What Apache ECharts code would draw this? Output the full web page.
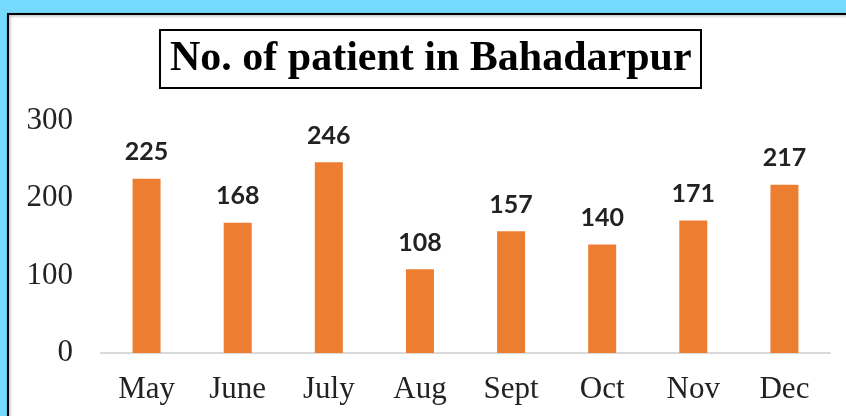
<!DOCTYPE html>
<html><head><meta charset="utf-8">
<script src="https://cdn.jsdelivr.net/npm/echarts@6/dist/echarts.min.js"></script>
<style>html,body{margin:0;padding:0;background:#76dafe;}#c{width:846px;height:416px;}</style>
</head><body><div id="c"></div>
<script>
const titleText = "No. of patient in Bahadarpur";
const months = ["May","June","July","Aug","Sept","Oct","Nov","Dec"];
const patients = [225,168,246,108,157,140,171,217];
const yTicks = [0,100,200,300];

const chart = echarts.init(document.getElementById('c'));
chart.setOption({
  backgroundColor: '#76dafe',
  animation: false,
  graphic: [{
    type: 'rect', z: -10, silent: true,
    shape: {x: 8, y: 14, width: 900, height: 500},
    style: {fill: '#ffffff', stroke: '#000000', lineWidth: 2, shadowColor: 'rgba(0,0,0,0.35)', shadowBlur: 3, shadowOffsetX: 1, shadowOffsetY: 1}
  }],
  title: {
    text: titleText,
    left: 160, top: 30,
    borderColor: '#000', borderWidth: 2,
    padding: [5, 10, 5, 10],
    textStyle: {fontFamily: 'Liberation Serif', fontWeight: 'bold', fontSize: 42, color: '#000', lineHeight: 48}
  },
  grid: {left: 101, right: 16, top: 120.5, bottom: 63, containLabel: false},
  xAxis: {
    type: 'category', data: months,
    axisLine: {lineStyle: {color: '#d9d9d9', width: 2}},
    axisTick: {show: false},
    axisLabel: {fontFamily: 'Liberation Serif', fontSize: 31, color: '#222', margin: 21, lineHeight: 32}
  },
  yAxis: {
    type: 'value', min: yTicks[0], max: yTicks[yTicks.length-1], interval: 100,
    axisLine: {show: false}, axisTick: {show: false}, splitLine: {show: false},
    axisLabel: {fontFamily: 'Liberation Serif', fontSize: 31, color: '#222', margin: 28}
  },
  series: [{
    type: 'bar', data: patients, barWidth: 28,
    itemStyle: {color: '#ed7d31'},
    label: {show: true, position: 'top', distance: 14, fontFamily: 'Lato', fontWeight: 'bold', fontSize: 25, color: '#222'}
  }]
});
</script></body></html>
